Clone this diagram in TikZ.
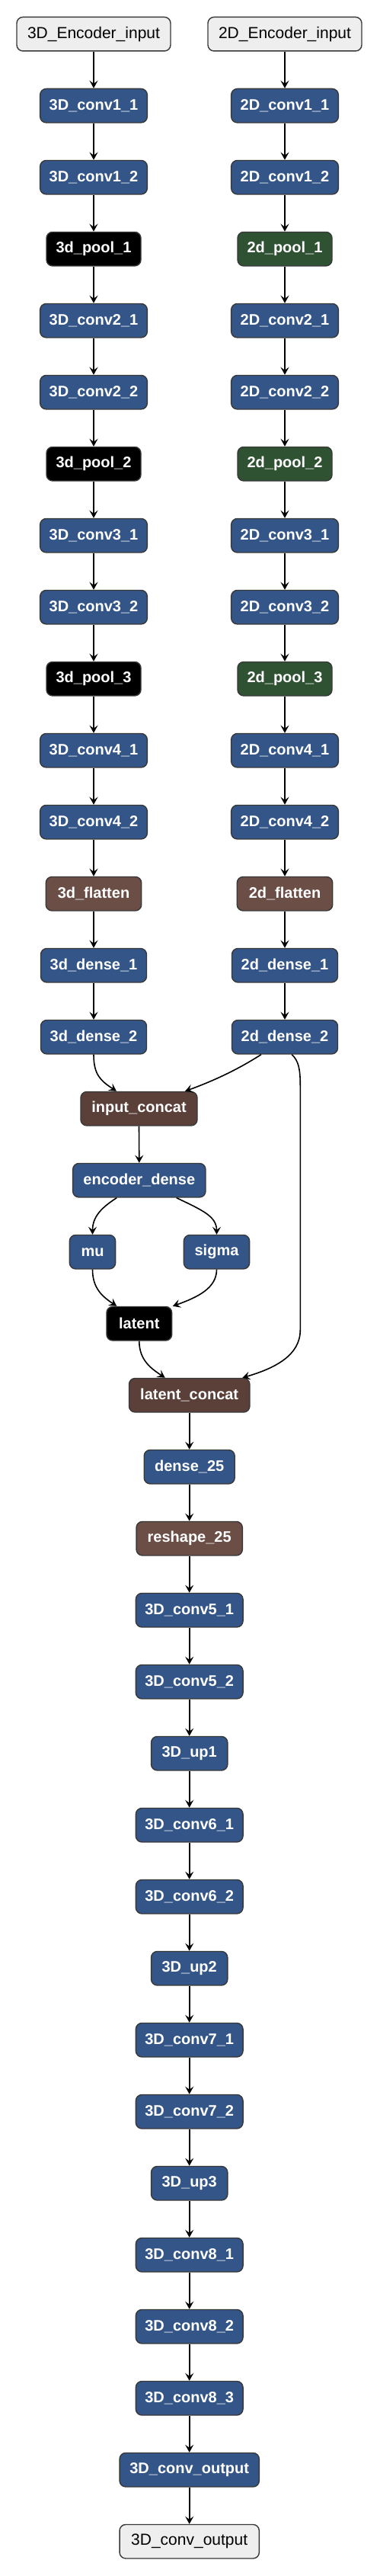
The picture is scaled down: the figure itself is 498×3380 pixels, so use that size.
\documentclass[tikz,border=0pt]{standalone}
\usepackage{fontspec}
\setmainfont{Liberation Sans}
\usetikzlibrary{arrows.meta}
\definecolor{cblue}{HTML}{335587}
\definecolor{cflat}{HTML}{6B4F47}
\definecolor{ccat}{HTML}{5B4039}
\definecolor{cgreen}{HTML}{2F5233}
\definecolor{cio}{HTML}{EEEEEE}
\definecolor{cborder}{HTML}{383838}
\tikzset{
  box/.style={draw=cborder, line width=1.4pt, rounded corners=8pt, minimum height=44.5pt,
    inner sep=0pt, text=white, font=\bfseries\fontsize{20}{24}\selectfont, align=center},
  blue/.style={box, fill=cblue},
  blk/.style={box, fill=black},
  grn/.style={box, fill=cgreen},
  flat/.style={box, fill=cflat},
  cat/.style={box, fill=ccat},
  io/.style={box, fill=cio, text=black, font=\fontsize{21}{24}\selectfont},
  arr/.style={-{Stealth[length=10pt,width=11pt,inset=4pt]}, line width=1.6pt, black},
}
\begin{document}
\begin{tikzpicture}[x=1pt,y=-1pt]
\useasboundingbox (0,0) rectangle (498,3380);
\def\L{123}\def\R{374}\def\C{182.8}\def\D{248.7}
% left column
\node[io,  minimum width=202pt]   (l0)  at (\L,44.7)   {3D\_Encoder\_input};
\node[blue,minimum width=140.7pt] (l1)  at (\L,138.7)  {3D\_conv1\_1};
\node[blue,minimum width=140.7pt] (l2)  at (\L,232.7)  {3D\_conv1\_2};
\node[blk, minimum width=124pt]   (l3)  at (\L,326.7)  {3d\_pool\_1};
\node[blue,minimum width=140.7pt] (l4)  at (\L,420.7)  {3D\_conv2\_1};
\node[blue,minimum width=140.7pt] (l5)  at (\L,514.7)  {3D\_conv2\_2};
\node[blk, minimum width=124pt]   (l6)  at (\L,608.7)  {3d\_pool\_2};
\node[blue,minimum width=140.7pt] (l7)  at (\L,702.7)  {3D\_conv3\_1};
\node[blue,minimum width=140.7pt] (l8)  at (\L,796.7)  {3D\_conv3\_2};
\node[blk, minimum width=124pt]   (l9)  at (\L,890.7)  {3d\_pool\_3};
\node[blue,minimum width=140.7pt] (l10) at (\L,984.7)  {3D\_conv4\_1};
\node[blue,minimum width=140.7pt] (l11) at (\L,1078.7) {3D\_conv4\_2};
\node[flat,minimum width=125.5pt] (l12) at (\L,1172.7) {3d\_flatten};
\node[blue,minimum width=139pt]   (l13) at (\L,1266.7) {3d\_dense\_1};
\node[blue,minimum width=139pt]   (l14) at (\L,1360.7) {3d\_dense\_2};
% right column
\node[io,  minimum width=202pt]   (r0)  at (\R,44.7)   {2D\_Encoder\_input};
\node[blue,minimum width=140.7pt] (r1)  at (\R,138.7)  {2D\_conv1\_1};
\node[blue,minimum width=140.7pt] (r2)  at (\R,232.7)  {2D\_conv1\_2};
\node[grn, minimum width=124pt]   (r3)  at (\R,326.7)  {2d\_pool\_1};
\node[blue,minimum width=140.7pt] (r4)  at (\R,420.7)  {2D\_conv2\_1};
\node[blue,minimum width=140.7pt] (r5)  at (\R,514.7)  {2D\_conv2\_2};
\node[grn, minimum width=124pt]   (r6)  at (\R,608.7)  {2d\_pool\_2};
\node[blue,minimum width=140.7pt] (r7)  at (\R,702.7)  {2D\_conv3\_1};
\node[blue,minimum width=140.7pt] (r8)  at (\R,796.7)  {2D\_conv3\_2};
\node[grn, minimum width=124pt]   (r9)  at (\R,890.7)  {2d\_pool\_3};
\node[blue,minimum width=140.7pt] (r10) at (\R,984.7)  {2D\_conv4\_1};
\node[blue,minimum width=140.7pt] (r11) at (\R,1078.7) {2D\_conv4\_2};
\node[flat,minimum width=125.5pt] (r12) at (\R,1172.7) {2d\_flatten};
\node[blue,minimum width=139pt]   (r13) at (\R,1266.7) {2d\_dense\_1};
\node[blue,minimum width=139pt]   (r14) at (\R,1360.7) {2d\_dense\_2};
% middle
\node[cat, minimum width=153pt]   (icat) at (182.5,1454.7) {input\_concat};
\node[blue,minimum width=174.3pt] (encd) at (\C,1548.7) {encoder\_dense};
\node[blue,minimum width=60.3pt]  (mu)   at (121.5,1642.7) {mu};
\node[blue,minimum width=86.3pt]  (sig)  at (284.5,1642.7) {sigma};
\node[blk, minimum width=85.7pt]  (lat)  at (\C,1736.7) {latent};
\node[cat, minimum width=158.5pt] (lcat) at (\D,1830.7) {latent\_concat};
% decoder
\node[blue,minimum width=119pt]   (d20) at (\D,1924.7) {dense\_25};
\node[flat,minimum width=139.3pt] (d21) at (\D,2018.7) {reshape\_25};
\node[blue,minimum width=140.7pt] (d22) at (\D,2112.7) {3D\_conv5\_1};
\node[blue,minimum width=140.7pt] (d23) at (\D,2206.7) {3D\_conv5\_2};
\node[blue,minimum width=100.3pt] (d24) at (\D,2300.7) {3D\_up1};
\node[blue,minimum width=140.7pt] (d25) at (\D,2394.7) {3D\_conv6\_1};
\node[blue,minimum width=140.7pt] (d26) at (\D,2488.7) {3D\_conv6\_2};
\node[blue,minimum width=100.3pt] (d27) at (\D,2582.7) {3D\_up2};
\node[blue,minimum width=140.7pt] (d28) at (\D,2676.7) {3D\_conv7\_1};
\node[blue,minimum width=140.7pt] (d29) at (\D,2770.7) {3D\_conv7\_2};
\node[blue,minimum width=100.3pt] (d30) at (\D,2864.7) {3D\_up3};
\node[blue,minimum width=140.7pt] (d31) at (\D,2958.7) {3D\_conv8\_1};
\node[blue,minimum width=140.7pt] (d32) at (\D,3052.7) {3D\_conv8\_2};
\node[blue,minimum width=140.7pt] (d33) at (\D,3146.7) {3D\_conv8\_3};
\node[blue,minimum width=183.3pt] (d34) at (\D,3240.7) {3D\_conv\_output};
\node[io,  minimum width=183.3pt] (d35) at (\D,3334.7) {3D\_conv\_output};
% straight chains
\foreach \a/\b in {0/1,1/2,2/3,3/4,4/5,5/6,6/7,7/8,8/9,9/10,10/11,11/12,12/13,13/14}{
  \draw[arr] (l\a.south) -- (l\b.north);
  \draw[arr] (r\a.south) -- (r\b.north);
}
\foreach \a/\b in {20/21,21/22,22/23,23/24,24/25,25/26,26/27,27/28,28/29,29/30,30/31,31/32,32/33,33/34,34/35}{
  \draw[arr] (d\a.south) -- (d\b.north);
}
\draw[arr] (icat.south) -- (encd.north);
\draw[arr] (lcat.south) -- (d20.north);
% curved connectors
\draw[arr] (l14.south) .. controls (123,1410) and (132,1418) .. ([xshift=-29.5pt]icat.north);
\draw[arr] ([xshift=-31pt]r14.south) .. controls (322,1397) and (292,1414) .. ([xshift=60.5pt]icat.north);
\draw[arr] ([xshift=9.3pt]r14.south) .. controls (392,1392) and (394.3,1402) .. (394.3,1425)
  -- (394.3,1745) .. controls (394.3,1778) and (362,1795) .. ([xshift=69.6pt]lcat.north);
\draw[arr] ([xshift=-29.5pt]encd.south) .. controls (134,1584) and (121.5,1596) .. (mu.north);
\draw[arr] ([xshift=48.9pt]encd.south) .. controls (266,1588) and (284.5,1596) .. (sig.north);
\draw[arr] (mu.south) .. controls (121.5,1690) and (134,1701) .. ([xshift=-29.5pt]lat.north);
\draw[arr] (sig.south) .. controls (284.5,1690) and (260,1702) .. ([xshift=44pt]lat.north);
\draw[arr] (lat.south) .. controls (\C,1785) and (199,1796) .. ([xshift=-32pt]lcat.north);
\end{tikzpicture}
\end{document}
